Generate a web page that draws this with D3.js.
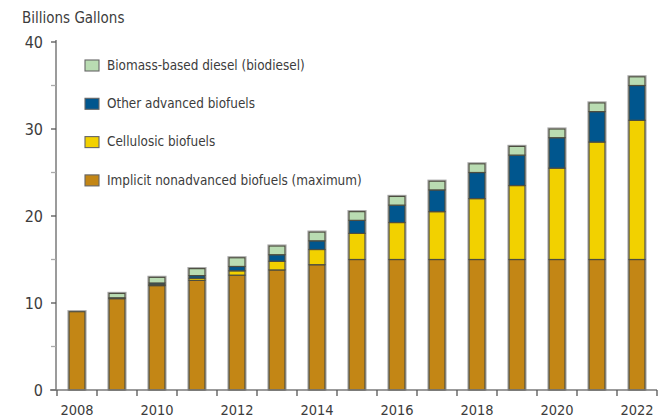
<!DOCTYPE html>
<html>
<head>
<meta charset="utf-8">
<script src="https://cdn.jsdelivr.net/npm/d3@7"></script>
<style>
  body { margin: 0; background: #fff; }
  text { font-family: "DejaVu Sans Condensed", "DejaVu Sans", sans-serif; fill: #3c3c3c; }
</style>
</head>
<body>
<script>
// years and the four stacked series (billions of gallons)
var years = [2008, 2009, 2010, 2011, 2012, 2013, 2014, 2015, 2016, 2017, 2018, 2019, 2020, 2021, 2022];
var nonadvanced = [9.0, 10.5, 12.0, 12.6, 13.2, 13.8, 14.4, 15.0, 15.0, 15.0, 15.0, 15.0, 15.0, 15.0, 15.0];
var cellulosic  = [0, 0, 0.1, 0.25, 0.5, 1.0, 1.75, 3.0, 4.25, 5.5, 7.0, 8.5, 10.5, 13.5, 16.0];
var otherAdv    = [0, 0.1, 0.2, 0.3, 0.5, 0.75, 1.0, 1.5, 2.0, 2.5, 3.0, 3.5, 3.5, 3.5, 4.0];
var biodiesel   = [0, 0.5, 0.65, 0.8, 1.0, 1.0, 1.0, 1.0, 1.0, 1.0, 1.0, 1.0, 1.0, 1.0, 1.0];
var yTicks = [0, 10, 20, 30, 40];
var xLabels = [2008, 2010, 2012, 2014, 2016, 2018, 2020, 2022];

var keys = ["nonadvanced", "cellulosic", "otherAdv", "biodiesel"];
var colors = { nonadvanced: "#c38615", cellulosic: "#f2d100", otherAdv: "#00568e", biodiesel: "#b9dcb2" };
var legendItems = [
  { key: "biodiesel", label: "Biomass-based diesel (biodiesel)" },
  { key: "otherAdv", label: "Other advanced biofuels" },
  { key: "cellulosic", label: "Cellulosic biofuels" },
  { key: "nonadvanced", label: "Implicit nonadvanced biofuels (maximum)" }
];

var data = years.map(function (y, i) {
  return { year: y, nonadvanced: nonadvanced[i], cellulosic: cellulosic[i], otherAdv: otherAdv[i], biodiesel: biodiesel[i] };
});

var W = 666, H = 419;
var mLeft = 57, mRight = 657, mTop = 42, mBottom = 390;

var svg = d3.select("body").append("svg")
  .attr("width", W).attr("height", H);

var x = d3.scaleBand().domain(years).range([mLeft, mRight]).paddingInner(0.6).paddingOuter(0.3);
var y = d3.scaleLinear().domain([0, 40]).range([mBottom, mTop]);

var series = d3.stack().keys(keys)(data);

// soft gray halo round each whole bar, like the print original
svg.append("g").selectAll("rect")
  .data(data).enter().append("rect")
    .attr("x", function (d) { return x(d.year) - 1; })
    .attr("width", x.bandwidth() + 2)
    .attr("y", function (d) { return y(d.nonadvanced + d.cellulosic + d.otherAdv + d.biodiesel) - 1; })
    .attr("height", function (d) { return y(0) - y(d.nonadvanced + d.cellulosic + d.otherAdv + d.biodiesel) + 1; })
    .attr("fill", "none")
    .attr("stroke", "#aaa")
    .attr("stroke-width", 1.2);

// bars
svg.append("g").selectAll("g")
  .data(series).enter().append("g")
    .attr("fill", function (d) { return colors[d.key]; })
  .selectAll("rect")
  .data(function (d) { return d.filter(function (p) { return p[1] - p[0] > 0; }); })
  .enter().append("rect")
    .attr("x", function (d) { return x(d.data.year); })
    .attr("width", x.bandwidth())
    .attr("y", function (d) { return y(d[1]); })
    .attr("height", function (d) { return y(d[0]) - y(d[1]); })
    .attr("stroke", "#4d4d40")
    .attr("stroke-width", 1.2);

// y axis
var ya = svg.append("g");
ya.append("line").attr("x1", mLeft - 1).attr("x2", mLeft - 1).attr("y1", y(40) - 2).attr("y2", mBottom)
  .attr("stroke", "#7a7a7a").attr("stroke-width", 1.5);
ya.selectAll("line.t").data(d3.range(0, 41, 5)).enter().append("line")
  .attr("class", "t")
  .attr("x1", mLeft - 6).attr("x2", mLeft - 1)
  .attr("y1", function (d) { return y(d); }).attr("y2", function (d) { return y(d); })
  .attr("stroke", function (d) { return d % 10 === 0 ? "#555" : "#aaa"; })
  .attr("stroke-width", 1.3);
ya.selectAll("text").data(yTicks).enter().append("text")
  .attr("x", 43).attr("y", function (d) { return y(d); })
  .attr("dy", "0.36em")
  .attr("text-anchor", "end")
  .style("font-size", "16px")
  .text(function (d) { return d; });

// x axis
var xa = svg.append("g");
xa.append("line").attr("x1", mLeft - 7).attr("x2", mRight).attr("y1", mBottom).attr("y2", mBottom)
  .attr("stroke", "#7a7a7a").attr("stroke-width", 1.5);
var bounds = years.map(function (yr) { return x(yr) - x.step() * x.paddingInner() / 2; }).concat([mRight]);
xa.selectAll("line.t").data(bounds).enter().append("line")
  .attr("class", "t")
  .attr("x1", function (d) { return d; }).attr("x2", function (d) { return d; })
  .attr("y1", mBottom).attr("y2", mBottom + 6)
  .attr("stroke", "#555").attr("stroke-width", 1.3);
xa.selectAll("text").data(xLabels).enter().append("text")
  .attr("x", function (d) { return x(d) + x.bandwidth() / 2; })
  .attr("y", 415)
  .attr("text-anchor", "middle")
  .style("font-size", "14.5px")
  .text(function (d) { return d; });

// title
svg.append("text").attr("x", 22).attr("y", 23).style("font-size", "15px").text("Billions Gallons");

// legend
var lg = svg.append("g").selectAll("g").data(legendItems).enter().append("g")
  .attr("transform", function (d, i) { return "translate(85," + (65 + i * 38.3) + ")"; });
lg.append("rect").attr("x", 0).attr("y", -5).attr("width", 14).attr("height", 11)
  .attr("fill", function (d) { return colors[d.key]; })
  .attr("stroke", "#666").attr("stroke-width", 1.1);
lg.append("text").attr("x", 22).attr("y", 0).attr("dy", "0.36em")
  .style("font-size", "13.4px")
  .text(function (d) { return d.label; });
</script>
</body>
</html>
